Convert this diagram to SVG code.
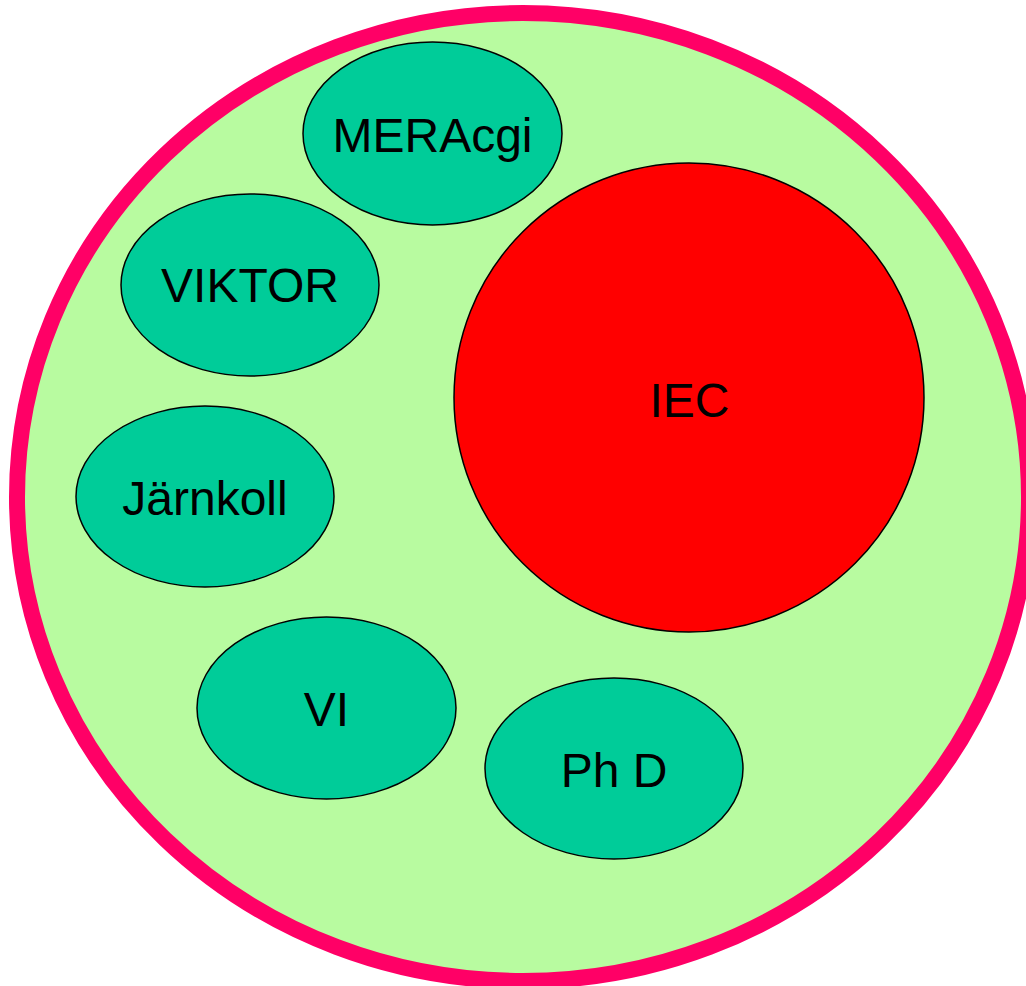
<svg xmlns="http://www.w3.org/2000/svg" width="1026" height="986" viewBox="0 0 1026 986">
<style>
.node{fill:#00CC99;stroke:#000;stroke-width:1.5}
.lbl{font-family:"Liberation Sans",Arial,sans-serif;font-size:48px;fill:#000;text-anchor:middle}
</style>
<rect width="1026" height="986" fill="#fff"/>
<g id="outer">
<ellipse cx="523" cy="497" rx="506" ry="484" fill="#B8FBA0" stroke="#FF0066" stroke-width="16"/>
</g>
<g id="connectors"></g>
<g id="iec">
<ellipse cx="689" cy="397.5" rx="235" ry="234.5" fill="#FF0000" stroke="#000" stroke-width="1.5"/>
<text class="lbl" x="689.5" y="417">IEC</text>
</g>
<g id="meracgi">
<ellipse class="node" cx="432.5" cy="133.5" rx="129.5" ry="91.5"/>
<text class="lbl" x="432.5" y="152">MERAcgi</text>
</g>
<g id="viktor">
<ellipse class="node" cx="250" cy="285" rx="129" ry="91"/>
<text class="lbl" x="250" y="302">VIKTOR</text>
</g>
<g id="jarnkoll">
<ellipse class="node" cx="205" cy="496.5" rx="129" ry="90.5"/>
<text class="lbl" x="205" y="515">Järnkoll</text>
</g>
<g id="vi">
<ellipse class="node" cx="326.5" cy="708" rx="129.5" ry="91"/>
<text class="lbl" x="326.5" y="726">VI</text>
</g>
<g id="phd">
<ellipse class="node" cx="614" cy="768.5" rx="129" ry="90.5"/>
<text class="lbl" x="614" y="787">Ph D</text>
</g>
</svg>
